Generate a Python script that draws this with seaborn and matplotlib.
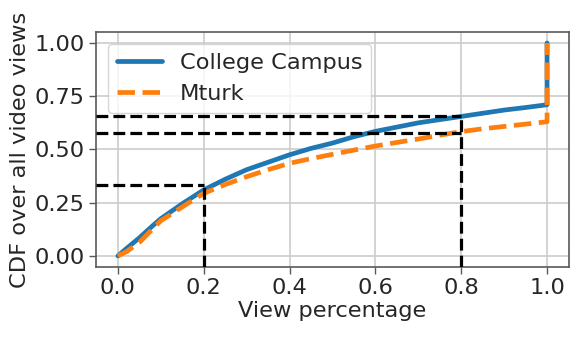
import matplotlib
matplotlib.use("Agg")
import matplotlib.pyplot as plt
import seaborn as sns
import pandas as pd

# View percentage (x) and CDF values
view_pct = [0.0, 0.02, 0.05, 0.08, 0.10, 0.15, 0.20, 0.25, 0.30, 0.35, 0.40, 0.45,
            0.50, 0.55, 0.60, 0.65, 0.70, 0.75, 0.80, 0.85, 0.90, 0.95, 1.0, 1.0]
college_cdf = [0.0, 0.035, 0.085, 0.14, 0.175, 0.245, 0.31, 0.36, 0.405, 0.44, 0.475, 0.505,
               0.53, 0.56, 0.585, 0.605, 0.625, 0.64, 0.655, 0.67, 0.685, 0.697, 0.71, 1.0]
mturk_cdf = [0.0, 0.02, 0.063, 0.125, 0.165, 0.23, 0.294, 0.335, 0.372, 0.405, 0.435, 0.457,
             0.477, 0.497, 0.516, 0.533, 0.549, 0.567, 0.584, 0.597, 0.608, 0.619, 0.63, 1.0]

# Reference marker lines
marker_x = [0.2, 0.8, 0.8]
marker_y = [0.333, 0.657, 0.579]

sns.set_style("ticks")
plt.rcParams["font.family"] = ["DejaVu Sans"]
FS = 16.2
plt.rcParams["font.size"] = FS

fig = plt.figure(figsize=(5.81, 3.37), dpi=100)
ax = fig.add_axes([0.166, 0.209, 0.8125, 0.695])

df = pd.DataFrame({
    "x": view_pct + view_pct,
    "y": college_cdf + mturk_cdf,
    "series": ["College Campus"] * len(view_pct) + ["Mturk"] * len(view_pct),
})
sns.lineplot(data=df[df.series == "College Campus"], x="x", y="y", estimator=None, sort=False,
             color="tab:blue", linewidth=3.4, label="College Campus", ax=ax)
sns.lineplot(data=df[df.series == "Mturk"], x="x", y="y", estimator=None, sort=False,
             color="tab:orange", linewidth=3.4, linestyle="--", label="Mturk", ax=ax)

xmin, ymin = -0.05, -0.05
for mx, my in zip(marker_x, marker_y):
    ax.plot([xmin, mx], [my, my], color="black", linestyle="--", linewidth=2.3, zorder=3)
for mx, my in [(0.2, 0.333), (0.8, 0.657)]:
    ax.plot([mx, mx], [ymin, my], color="black", linestyle="--", linewidth=2.3, zorder=3)

ax.set_xlim(-0.05, 1.05)
ax.set_ylim(-0.05, 1.05)
ax.set_xticks([0.0, 0.2, 0.4, 0.6, 0.8, 1.0])
ax.set_yticks([0.0, 0.25, 0.5, 0.75, 1.0])
ax.set_yticklabels(["0.00", "0.25", "0.50", "0.75", "1.00"])
ax.set_xticklabels(["0.0", "0.2", "0.4", "0.6", "0.8", "1.0"])
ax.tick_params(labelsize=FS, color="0.35", length=5, width=1)
ax.grid(True, color="0.8", linewidth=1.2)
for sp in ax.spines.values():
    sp.set_visible(True)
    sp.set_color("0.35")
    sp.set_linewidth(1.2)
ax.set_xlabel("View percentage", fontsize=FS, labelpad=2)
ax.set_ylabel("CDF over all video views", fontsize=FS, labelpad=3)
ax.legend(loc="upper left", fontsize=FS, frameon=True, borderpad=0.4, handlelength=2.0)

fig.savefig("out.png", dpi=100)
